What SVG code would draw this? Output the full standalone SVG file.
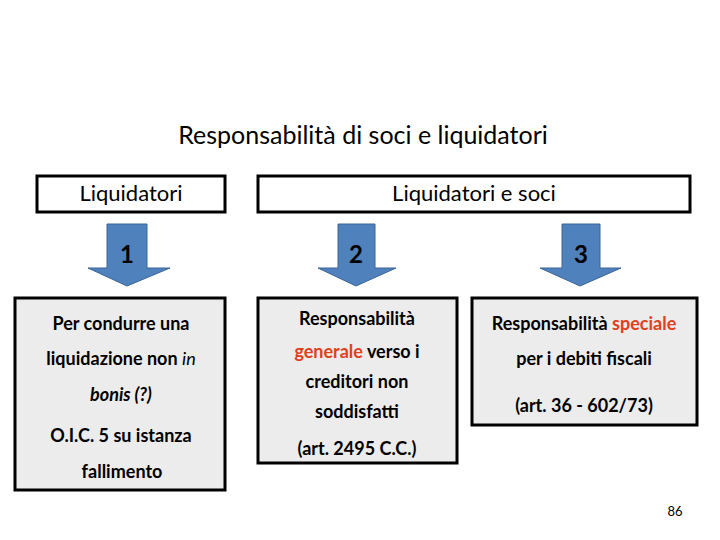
<svg xmlns="http://www.w3.org/2000/svg" width="720" height="540" viewBox="0 0 720 540">
<style>
text{font-family:Lato,"Open Sans",sans-serif;fill:#000;text-anchor:middle}
.hd{fill:#fff;stroke:#000;stroke-width:3}
.bx{fill:#ececec;stroke:#000;stroke-width:3}
.ar{fill:#4f81bd;stroke:#3a6496;stroke-width:1}
.t{font-size:18px;font-weight:bold}
.r{fill:#e0401c}
.n{font-size:24px;font-weight:bold}
</style>
<rect width="720" height="540" fill="#fff"/>
<text x="363" y="144" style="font-size:25px">Responsabilità di soci e liquidatori</text>
<g id="h1"><rect class="hd" x="37" y="176" width="188" height="36"/><text x="131" y="201" style="font-size:22px">Liquidatori</text></g>
<g id="h2"><rect class="hd" x="258" y="176" width="432" height="36"/><text x="474" y="201" style="font-size:22px">Liquidatori e soci</text></g>
<g id="connectors">
<g id="a1"><path class="ar" d="M107,224H147V268H170L127,286L88,268H107Z"/><text class="n" x="127" y="263">1</text></g>
<g id="a2"><path class="ar" d="M338,224H375V268H396L356,286L318,268H338Z"/><text class="n" x="356" y="263">2</text></g>
<g id="a3"><path class="ar" d="M562,224H600V268H621L580,286L540,268H562Z"/><text class="n" x="581" y="263">3</text></g>
</g>
<g id="b1"><rect class="bx" x="15" y="298" width="210" height="192"/>
<text class="t" x="121" y="330">Per condurre una</text>
<text class="t" x="121" y="365">liquidazione non <tspan font-style="italic" font-weight="normal">in</tspan></text>
<text class="t" x="121" y="401" font-style="italic" font-weight="normal">bonis (?)</text>
<text class="t" x="121" y="442">O.I.C. 5 su istanza</text>
<text class="t" x="122" y="478">fallimento</text></g>
<g id="b2"><rect class="bx" x="258" y="298" width="199" height="165"/>
<text class="t" x="357" y="325">Responsabilità</text>
<text class="t" x="357" y="358"><tspan class="r">generale</tspan> verso i</text>
<text class="t" x="357" y="388">creditori non</text>
<text class="t" x="357" y="418">soddisfatti</text>
<text class="t" x="357" y="455">(art. 2495 C.C.)</text></g>
<g id="b3"><rect class="bx" x="472" y="298" width="225" height="127"/>
<text class="t" x="584" y="330">Responsabilità <tspan class="r">speciale</tspan></text>
<text class="t" x="584" y="365">per i debiti fiscali</text>
<text class="t" x="584" y="412">(art. 36 - 602/73)</text></g>
<text x="675" y="516" style="font-size:13px">86</text>
</svg>
